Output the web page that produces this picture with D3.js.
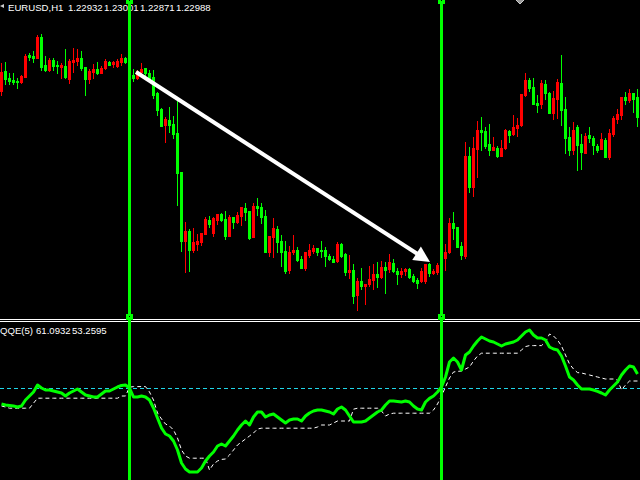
<!DOCTYPE html>
<html><head><meta charset="utf-8">
<script src="https://cdn.jsdelivr.net/npm/d3@7"></script>
<style>html,body{margin:0;padding:0;background:#000;overflow:hidden}</style>
</head><body><svg id="c" width="640" height="480"></svg>
<script>
// ---------- DATA ----------
const openP = [
1.23018,1.23058,1.23044,1.23040,1.23038,1.23036,1.23046,1.23090,1.23088,1.23084,
1.23126,1.23070,1.23060,1.23080,1.23070,1.23066,1.23068,1.23042,1.23076,1.23078,
1.23084,1.23066,1.23042,1.23056,1.23062,1.23054,1.23064,1.23076,1.23072,1.23068,
1.23076,1.23084,1.23074,1.23050,1.23044,1.23056,1.23064,1.23054,1.23046,1.23014,
1.22982,1.22950,1.22960,1.22952,1.22934,1.22856,1.22718,1.22738,1.22700,1.22712,
1.22716,1.22732,1.22760,1.22734,1.22760,1.22772,1.22762,1.22728,1.22766,1.22756,
1.22768,1.22784,1.22778,1.22726,1.22788,1.22786,1.22768,1.22696,1.22726,1.22742,
1.22718,1.22698,1.22660,1.22696,1.22700,1.22682,1.22664,1.22690,1.22698,1.22704,
1.22700,1.22700,1.22688,1.22682,1.22678,1.22712,1.22692,1.22656,1.22660,1.22610,
1.22638,1.22628,1.22632,1.22640,1.22652,1.22646,1.22666,1.22662,1.22674,1.22658,
1.22652,1.22658,1.22662,1.22648,1.22640,1.22638,1.22638,1.22672,1.22654,1.22656,
1.22670,1.22684,1.22696,1.22754,1.22746,1.22708,1.22688,1.22888,1.22826,1.22902,
1.22940,1.22938,1.22912,1.22900,1.22904,1.22888,1.22904,1.22938,1.22932,1.22944,
1.22950,1.23010,1.23040,1.23026,1.22994,1.22992,1.23032,1.23014,1.22974,1.23002,
1.23034,1.22982,1.22926,1.22900,1.22946,1.22912,1.22894,1.22930,1.22924,1.22908,
1.22902,1.22920,1.22886,1.22932,1.22962,1.22970,1.23006,1.23000,1.23014,1.23006];
const highP = [
1.23074,1.23076,1.23054,1.23054,1.23044,1.23050,1.23092,1.23094,1.23098,1.23130,
1.23132,1.23088,1.23084,1.23084,1.23078,1.23074,1.23102,1.23082,1.23104,1.23102,
1.23098,1.23066,1.23062,1.23072,1.23076,1.23068,1.23082,1.23078,1.23078,1.23082,
1.23092,1.23086,1.23080,1.23062,1.23060,1.23074,1.23064,1.23060,1.23060,1.23016,
1.22984,1.22966,1.22986,1.22968,1.22998,1.22856,1.22756,1.22742,1.22744,1.22732,
1.22734,1.22766,1.22768,1.22766,1.22772,1.22774,1.22778,1.22770,1.22766,1.22776,
1.22786,1.22794,1.22778,1.22794,1.22804,1.22794,1.22780,1.22728,1.22764,1.22748,
1.22730,1.22718,1.22708,1.22730,1.22706,1.22688,1.22696,1.22712,1.22710,1.22704,
1.22718,1.22706,1.22692,1.22688,1.22716,1.22714,1.22694,1.22690,1.22672,1.22644,
1.22664,1.22632,1.22668,1.22672,1.22676,1.22678,1.22676,1.22692,1.22682,1.22664,
1.22664,1.22664,1.22664,1.22652,1.22644,1.22664,1.22672,1.22674,1.22662,1.22674,
1.22700,1.22712,1.22764,1.22776,1.22746,1.22716,1.22916,1.22906,1.22926,1.22958,
1.22966,1.22946,1.22952,1.22926,1.22908,1.22920,1.22942,1.22940,1.22970,1.22964,
1.23012,1.23054,1.23044,1.23044,1.23010,1.23040,1.23040,1.23016,1.23018,1.23042,
1.23090,1.23006,1.22946,1.22956,1.22950,1.22932,1.22934,1.22946,1.22928,1.22912,
1.22934,1.22924,1.22942,1.22968,1.22982,1.23006,1.23016,1.23022,1.23014,1.23022];
const lowP = [
1.23010,1.23032,1.23032,1.23032,1.23024,1.23034,1.23046,1.23080,1.23076,1.23084,
1.23060,1.23058,1.23058,1.23060,1.23054,1.23044,1.23044,1.23034,1.23056,1.23070,
1.23060,1.23010,1.23034,1.23044,1.23052,1.23054,1.23062,1.23070,1.23066,1.23066,
1.23070,1.23074,1.23056,1.23038,1.23042,1.23054,1.23050,1.23040,1.23004,1.22970,
1.22948,1.22916,1.22936,1.22924,1.22790,1.22698,1.22656,1.22658,1.22696,1.22700,
1.22710,1.22732,1.22746,1.22728,1.22752,1.22758,1.22722,1.22728,1.22744,1.22754,
1.22750,1.22760,1.22722,1.22726,1.22770,1.22754,1.22696,1.22688,1.22686,1.22696,
1.22668,1.22654,1.22654,1.22692,1.22678,1.22664,1.22660,1.22686,1.22694,1.22690,
1.22686,1.22668,1.22680,1.22676,1.22676,1.22686,1.22650,1.22644,1.22594,1.22580,
1.22622,1.22592,1.22628,1.22622,1.22626,1.22644,1.22614,1.22656,1.22656,1.22632,
1.22646,1.22650,1.22644,1.22636,1.22624,1.22636,1.22634,1.22648,1.22652,1.22652,
1.22666,1.22660,1.22694,1.22722,1.22706,1.22682,1.22684,1.22816,1.22808,1.22846,
1.22900,1.22904,1.22890,1.22900,1.22886,1.22888,1.22902,1.22916,1.22930,1.22928,
1.22948,1.23008,1.23018,1.22992,1.22976,1.22984,1.23002,1.22974,1.22962,1.22964,
1.22950,1.22894,1.22890,1.22892,1.22860,1.22862,1.22894,1.22916,1.22892,1.22896,
1.22902,1.22886,1.22882,1.22928,1.22954,1.22962,1.22992,1.22996,1.22976,1.22948];
const closeP = [
1.23056,1.23042,1.23038,1.23036,1.23036,1.23048,1.23088,1.23086,1.23084,1.23126,
1.23066,1.23060,1.23080,1.23068,1.23068,1.23070,1.23046,1.23078,1.23080,1.23084,
1.23064,1.23042,1.23058,1.23062,1.23054,1.23064,1.23078,1.23070,1.23076,1.23078,
1.23084,1.23076,1.23060,1.23044,1.23058,1.23062,1.23054,1.23044,1.23010,1.22980,
1.22948,1.22962,1.22950,1.22932,1.22854,1.22718,1.22738,1.22700,1.22716,1.22718,
1.22734,1.22762,1.22752,1.22764,1.22772,1.22760,1.22728,1.22766,1.22756,1.22770,
1.22786,1.22776,1.22724,1.22788,1.22784,1.22766,1.22696,1.22728,1.22744,1.22716,
1.22696,1.22658,1.22696,1.22700,1.22680,1.22664,1.22696,1.22700,1.22704,1.22696,
1.22698,1.22688,1.22682,1.22676,1.22712,1.22688,1.22656,1.22660,1.22608,1.22638,
1.22628,1.22632,1.22642,1.22652,1.22646,1.22666,1.22660,1.22676,1.22658,1.22652,
1.22658,1.22662,1.22646,1.22638,1.22634,1.22658,1.22672,1.22654,1.22658,1.22670,
1.22686,1.22696,1.22754,1.22744,1.22706,1.22690,1.22888,1.22826,1.22904,1.22940,
1.22936,1.22908,1.22900,1.22906,1.22888,1.22904,1.22940,1.22930,1.22946,1.22950,
1.23012,1.23040,1.23024,1.22992,1.22990,1.23034,1.23014,1.22974,1.23004,1.23036,
1.22980,1.22924,1.22900,1.22940,1.22910,1.22896,1.22928,1.22924,1.22910,1.22900,
1.22922,1.22886,1.22934,1.22964,1.22972,1.23006,1.23000,1.23014,1.23002,1.22966];

const qqeMain = [
42,41.5,41.3,41,40.5,41,44,46,48,51.5,
50,49,49,48.5,48,47.5,46,47.5,48.5,49.5,
48,46.5,46,45.5,45.5,47,48.5,48.5,49.5,50.5,
51.3,51.5,50,45.5,45.5,46,45.5,44,40,35,
30,27,26,23.5,19,12.5,9.5,8,8,8,
10,13.5,16,18,21,22,21,23.5,26,29,
31.5,33.5,31.5,35.5,38,38,35.5,36.5,37,35.5,
34,32.5,34,34.5,34.5,33.5,36,37.5,38.5,39,
39,38.5,38,37,39.5,40.5,39,36,33,33,
33,33.5,35,36.5,38,39,41.5,43.5,43.5,43.3,
43,43.5,43,41,39.5,39,43,44.8,46,48,
50.5,55.5,63,65,63,59,66.5,68,71,73.5,
75.5,74.5,73.5,73,72,71,72,72.5,73,74,
76,78,79,76.5,75,75,74,70.5,69.5,69,
66,61,55.5,54,51.5,49.5,49.5,49.5,49,48.3,
47.5,46.5,49,51,53,56.5,59,61,60.5,57];
const qqeSignal = [
41,40.5,39.9,39.9,39.9,39.9,39.9,39.9,42.4,44.9,
44.9,44.9,44.9,44.9,44.9,44.9,44.9,44.9,44.9,44.9,
44.9,44.9,44.9,44.9,44.9,44.9,44.9,44.9,44.9,44.9,
46,46,50.4,50.7,50.7,50.7,50.7,48,44,37.5,
34.5,32,31,29,25,19,16,14.9,14.9,14.9,
14.9,14.9,9,12,13.5,14.3,14.5,16.5,19,21.5,
23,24.5,26,27.5,29.5,29.9,29.9,29.9,29.9,29.9,
29.9,29.9,29.9,29.9,29.9,29.9,29.9,29.9,29.9,30.5,
31.5,31.5,31.5,32.5,33.5,33.5,33.5,33.5,39.4,39.9,
39.9,39.9,39.9,39.9,39.9,38.5,36,37,37.4,37.4,
37.4,37.4,37.4,37.4,37.4,37.4,37.4,37.4,39,42,
46,50.5,55,58,58.3,58.5,59.5,60.5,63.5,66,
67.4,67.4,67.4,67.4,67.4,67.4,67.4,67.4,67.4,67.4,
69,70.7,71.2,71.2,71.2,71.2,73,77,76,74,
71,66.5,62,59.5,57.7,57.5,57,56.5,56,55.5,
55,54.5,54.5,54.5,54,49,51.5,53.5,53.5,53.5];
const qqeLevel = 50;
const markerIdx = [32, 110];
const arrowFrom = {i: 34, p: 1.23056};
const arrowTo = {i: 107.5, p: 1.22676};
const headerParts = ["EURUSD,H1", "1.22932", "1.23001", "1.22871", "1.22988"];
const qqeParts = ["QQE(5)", "61.0932", "53.2595"];

// ---------- DRAW ----------
const W = 640, H = 480, N = openP.length;
const svg = d3.select("#c");
svg.append("rect").attr("width", W).attr("height", H).attr("fill", "#000");

const x = d3.scaleLinear().domain([0, 160]).range([0, 640]);
const y = d3.scaleLinear().domain([1.22564, 1.23200]).range([318, 0]);
const yq = d3.scaleLinear().domain([4, 83]).range([480, 322]);

const defs = svg.append("defs");
defs.append("clipPath").attr("id", "mainClip").append("rect").attr("x", 0).attr("y", 0).attr("width", W).attr("height", 319);
defs.append("clipPath").attr("id", "qClip").append("rect").attr("x", 0).attr("y", 322).attr("width", W).attr("height", 158);

const candles = d3.range(N).map(i => ({i, o: openP[i], h: highP[i], l: lowP[i], c: closeP[i]}));
const col = d => d.c > d.o ? "#ff0000" : "#00ff00";

const gMain = svg.append("g").attr("clip-path", "url(#mainClip)").attr("shape-rendering", "crispEdges");
gMain.selectAll("rect.wick").data(candles).join("rect")
  .attr("class", "wick")
  .attr("x", d => Math.round(x(d.i)) + 1)
  .attr("width", 1)
  .attr("y", d => Math.round(y(d.h)))
  .attr("height", d => Math.round(y(d.l)) - Math.round(y(d.h)) + 1)
  .attr("fill", col);
gMain.selectAll("rect.body").data(candles).join("rect")
  .attr("class", "body")
  .attr("x", d => Math.round(x(d.i)))
  .attr("width", 3)
  .attr("y", d => Math.round(y(Math.max(d.o, d.c))))
  .attr("height", d => Math.round(y(Math.min(d.o, d.c))) - Math.round(y(Math.max(d.o, d.c))) + 1)
  .attr("fill", col);

// header text
const hx = [8, 68, 104, 140, 176];
svg.append("g").selectAll("text").data(headerParts).join("text")
  .attr("x", (d, k) => hx[k]).attr("y", 11)
  .attr("fill", "#ffffff")
  .attr("font-family", "Liberation Sans, Arial, sans-serif")
  .attr("font-size", 9.6)
  .text(d => d);
// tiny icon top-left
svg.append("path").attr("d", "M0,6 L4,4 L4,8 Z").attr("fill", "#cccccc");

// arrow
const P0 = [x(arrowFrom.i), y(arrowFrom.p)], P1 = [x(arrowTo.i), y(arrowTo.p)];
const dx = P1[0] - P0[0], dy = P1[1] - P0[1], len = Math.hypot(dx, dy);
const ux = dx / len, uy = dy / len, nx = -uy, ny = ux;
const B = [P1[0] - 16 * ux, P1[1] - 16 * uy];
svg.append("line").attr("x1", P0[0]).attr("y1", P0[1]).attr("x2", B[0] + 2 * ux).attr("y2", B[1] + 2 * uy)
  .attr("stroke", "#ffffff").attr("stroke-width", 4);
svg.append("path").attr("d", `M${P1[0]},${P1[1]} L${B[0] + 8 * nx},${B[1] + 8 * ny} L${B[0] - 8 * nx},${B[1] - 8 * ny} Z`)
  .attr("fill", "#ffffff");

// top diamond (object marker)
svg.append("path").attr("d", "M514,-2 L520,-8 L526,-2 L520,4 Z").attr("fill", "#9a9a9a").attr("stroke", "#d0d0d0").attr("stroke-width", 1);

// separator
svg.append("rect").attr("x", 0).attr("y", 319).attr("width", W).attr("height", 1).attr("fill", "#ffffff");
svg.append("rect").attr("x", 0).attr("y", 321).attr("width", W).attr("height", 1).attr("fill", "#ffffff");

// QQE panel
const gQ = svg.append("g").attr("clip-path", "url(#qClip)");
gQ.append("line").attr("x1", 0).attr("x2", W).attr("y1", Math.round(yq(qqeLevel)) + 0.5).attr("y2", Math.round(yq(qqeLevel)) + 0.5)
  .attr("stroke", "#1fd5e8").attr("stroke-width", 1).attr("stroke-dasharray", "4,3");
const lineGen = arr => d3.line().x((d, i) => x(i) + 1.5).y(d => yq(d))(arr);
gQ.append("path").attr("d", lineGen(qqeSignal)).attr("fill", "none")
  .attr("stroke", "#ffffff").attr("stroke-width", 1).attr("stroke-dasharray", "4,3");
gQ.append("path").attr("d", lineGen(qqeMain)).attr("fill", "none")
  .attr("stroke", "#00ff00").attr("stroke-width", 3).attr("stroke-linejoin", "round");

const qx = [0, 36, 72];
svg.append("g").selectAll("text").data(qqeParts).join("text")
  .attr("x", (d, k) => qx[k]).attr("y", 334)
  .attr("fill", "#ffffff")
  .attr("font-family", "Liberation Sans, Arial, sans-serif")
  .attr("font-size", 9.6)
  .text(d => d);

// vertical marker lines with handles
const gV = svg.append("g").attr("shape-rendering", "crispEdges");
markerIdx.forEach(i => {
  const lx = Math.round(x(i));
  gV.append("rect").attr("x", lx).attr("y", 0).attr("width", 3).attr("height", H).attr("fill", "#00ff00");
  [-2, 314].forEach(hy => {
    gV.append("rect").attr("x", lx - 2).attr("y", hy).attr("width", 7).attr("height", 6).attr("fill", "#00ff00");
    gV.append("rect").attr("x", lx + 1).attr("y", hy + 2).attr("width", 1).attr("height", 1).attr("fill", "#000");
  });
});
</script></body></html>
